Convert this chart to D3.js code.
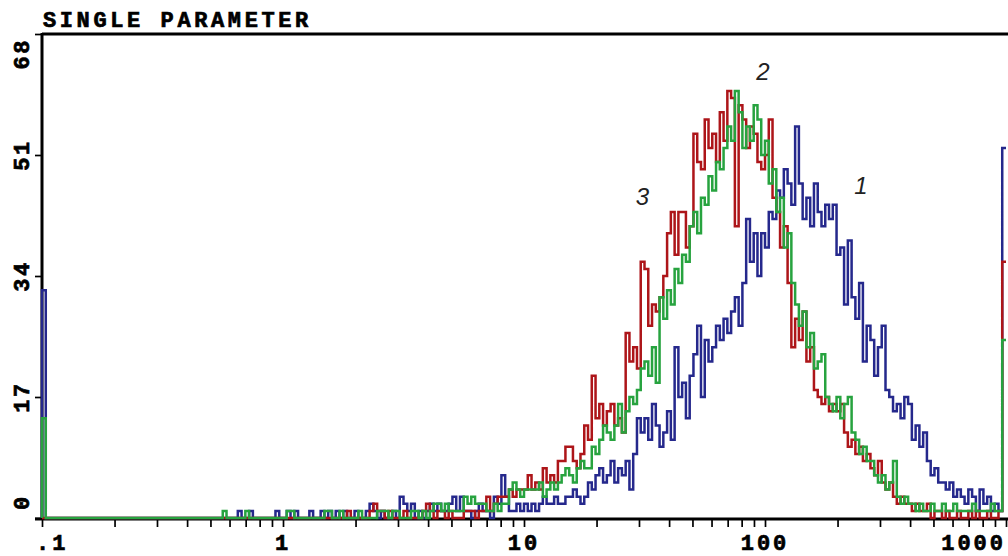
<!DOCTYPE html>
<html>
<head>
<meta charset="utf-8">
<script src="https://cdn.jsdelivr.net/npm/d3@7"></script>
<style>
body{margin:0;background:#fff;}
svg{display:block;}
</style>
</head>
<body>
<div id="chart"></div>
<script>
var chartTitle = "SINGLE PARAMETER";
var xTickValues = [0.1, 1, 10, 100, 1000];
var xTickLabels = [".1", "1", "10", "100", "1000"];
var yTickValues = [0, 17, 34, 51, 68];
var yTickLabels = ["0", "17", "34", "51", "68"];
var seriesNames = ["1", "2", "3"];
var channelsPerDecade = 64;

// counts per channel (256 channels, log scale .1 - 1000)
var counts1 = [
32,0,0,0,0,0,0,0,0,0, 0,0,0,0,0,0,0,0,0,0, 0,0,0,0,0,0,0,0,0,0, 0,0,0,0,0,0,0,0,0,0,
0,0,0,0,0,0,0,0,0,0, 0,0,1,0,0,1,0,0,0,0, 0,0,1,0,0,1,0,1,0,0, 0,1,0,0,1,0,1,0,1,0,
1,0,0,1,0,0,1,2,1,0, 1,0,0,1,0,3,2,1,2,0, 1,0,1,2,1,2,1,1,2,3, 1,3,1,1,0,1,2,1,1,0,
3,2,6,3,1,1,2,1,2,1, 2,1,2,3,2,2,3,2,2,3, 3,4,3,2,3,5,4,6,7,5, 6,8,5,7,6,8,4,9,14,12,
14,11,16,13,10,12,15,11,24,17, 19,14,20,23,27,17,25,22,24,27, 25,28,26,29,31,27,33,42,36,40,
34,40,38,43,42,46,45,49,47,44, 55,47,42,45,41,47,43,41,44,42, 44,37,38,30,39,31,28,33,22,27,
25,20,24,27,18,17,15,16,14,17, 16,11,13,10,12,8,6,7,5,5, 4,5,3,4,3,2,4,3,1,4,
2,3,1,2,1,52
];
var counts2 = [
14,0,0,0,0,0,0,0,0,0, 0,0,0,0,0,0,0,0,0,0, 0,0,0,0,0,0,0,0,0,0, 0,0,0,0,0,0,0,0,0,0,
0,0,0,0,0,0,0,0,1,0, 0,0,0,0,1,0,0,0,0,0, 0,0,0,0,0,1,1,0,0,0, 0,0,0,0,0,1,1,0,0,1,
0,0,0,0,1,0,0,0,0,1, 1,1,0,1,1,0,0,0,1,1, 0,1,0,1,2,2,1,2,1,1, 1,1,3,2,3,2,2,2,1,1,
2,1,2,2,4,5,4,3,4,4, 4,4,5,3,4,5,4,5,6,7, 6,5,7,8,7,7,10,9,11,13, 12,11,13,16,12,15,17,16,18,21,
22,20,24,19,31,28,32,30,35,33, 37,36,41,43,40,45,44,48,46,50, 49,52,55,53,60,57,52,55,53,58,
56,51,53,47,49,43,45,38,40,33, 30,27,29,24,26,21,22,23,17,16, 15,17,14,16,17,12,11,9,10,8,
8,6,5,6,4,5,8,3,2,3, 2,2,1,2,1,1,2,1,1,2, 1,1,2,1,1,1,1,2,1,1,
1,1,2,1,1,25
];
var counts3 = [
0,0,0,0,0,0,0,0,0,0, 0,0,0,0,0,0,0,0,0,0, 0,0,0,0,0,0,0,0,0,0, 0,0,0,0,0,0,0,0,0,0,
0,0,0,0,0,0,0,0,0,0, 0,0,0,0,0,0,0,0,0,0, 0,0,0,0,0,0,0,0,0,0, 0,0,0,0,0,0,0,0,0,0,
0,1,0,0,0,0,0,1,2,1, 1,0,1,0,0,0,1,0,0,0, 0,1,2,1,0,1,1,0,1,0, 0,0,1,1,1,0,1,1,3,1,
2,3,3,3,4,3,4,4,4,6, 4,5,4,7,5,6,5,8,8,10, 10,8,7,9,13,11,20,14,16,13, 15,16,13,14,12,26,22,24,21,36,
35,27,30,29,31,34,40,43,37,43, 43,38,41,54,50,49,56,52,54,50, 57,53,60,59,41,58,56,52,55,54,
50,49,51,56,45,43,38,41,33,24, 28,25,29,22,24,18,17,16,17,15, 16,15,16,12,10,11,9,10,8,9,
7,6,8,5,4,5,3,2,3,2, 2,1,2,1,1,2,0,1,1,0, 1,0,0,1,0,0,1,0,1,0,
0,1,0,0,1,36
];

var width = 1008, height = 556;
var svg = d3.select("#chart").append("svg").attr("width", width).attr("height", height);

var x = d3.scaleLog().domain([0.1, 1000]).range([42, 1006]);
var y = d3.scaleLinear().domain([0, 68]).range([518, 34]);
var monoFont = "'Liberation Mono', 'DejaVu Sans Mono', monospace";

// title
svg.append("text").attr("x", 43).attr("y", 27)
	.attr("font-family", monoFont).attr("font-weight", "bold")
	.attr("font-size", 22).attr("letter-spacing", 3.6)
	.attr("stroke", "#000").attr("stroke-width", 0.7)
	.text(chartTitle);

// x axis ticks (1..9 of each decade)
var minorTicks = [];
for (var d = 0; d < 4; d++) {
	for (var m = 1; m < 10; m++) minorTicks.push(xTickValues[d] * m);
}
minorTicks.push(1000);
var xAxis = svg.append("g").attr("transform", "translate(0,518)")
	.call(d3.axisBottom(x).tickValues(minorTicks).tickSize(9).tickFormat(""));
xAxis.select(".domain").remove();
xAxis.selectAll("line").attr("stroke", "#000").attr("stroke-width", 1.7);

var yAxis = svg.append("g").attr("transform", "translate(42,0)")
	.call(d3.axisLeft(y).tickValues(yTickValues).tickSize(7).tickFormat(""));
yAxis.select(".domain").remove();
yAxis.selectAll("line").attr("stroke", "#000").attr("stroke-width", 1.7);

// frame lines
svg.append("line").attr("x1", 42).attr("x2", 1008).attr("y1", 34).attr("y2", 34)
	.attr("stroke", "#000").attr("stroke-width", 3);
svg.append("line").attr("x1", 42).attr("x2", 42).attr("y1", 33).attr("y2", 520)
	.attr("stroke", "#000").attr("stroke-width", 3);
svg.append("line").attr("x1", 35).attr("x2", 1008).attr("y1", 519).attr("y2", 519)
	.attr("stroke", "#000").attr("stroke-width", 3);

// x tick labels
svg.selectAll(".xlab").data(xTickValues).enter().append("text")
	.attr("class", "xlab")
	.attr("x", function(v, i){ return i == 0 ? 36 : (i == 4 ? 1006 : x(v)); })
	.attr("y", 550)
	.attr("text-anchor", function(v, i){ return i == 0 ? "start" : (i == 4 ? "end" : "middle"); })
	.attr("font-family", monoFont).attr("font-weight", "bold")
	.attr("font-size", 22).attr("letter-spacing", 3)
	.attr("stroke", "#000").attr("stroke-width", 0.7)
	.text(function(v, i){ return xTickLabels[i]; });

// y tick labels (rotated)
svg.selectAll(".ylab").data(yTickValues).enter().append("text")
	.attr("class", "ylab")
	.attr("transform", function(v, i){
		var py = y(v);
		if (i == 0) py = py - 8;
		if (i == yTickValues.length - 1) py = py + 4;
		return "translate(21," + py + ") rotate(-90)";
	})
	.attr("dy", "0.35em")
	.attr("text-anchor", function(v, i){ return i == 0 ? "start" : (i == yTickValues.length - 1 ? "end" : "middle"); })
	.attr("font-family", monoFont).attr("font-weight", "bold")
	.attr("font-size", 22).attr("letter-spacing", 2.5)
	.attr("stroke", "#000").attr("stroke-width", 0.7)
	.text(function(v, i){ return yTickLabels[i]; });

// histogram step lines
var channelEdge = function(c){ return 0.1 * Math.pow(10, c / channelsPerDecade); };
var stepLine = d3.line().curve(d3.curveStepAfter)
	.x(function(p){ return x(p[0]); })
	.y(function(p){ return y(p[1]); });

var drawSeries = function(counts, color){
	var pts = [[channelEdge(0), 0]];
	for (var c = 0; c < counts.length; c++) pts.push([channelEdge(c), counts[c]]);
	pts.push([1000, counts[counts.length - 1]]);
	svg.append("path").attr("d", stepLine(pts))
		.attr("fill", "none").attr("stroke", color)
		.attr("stroke-width", 2.5).attr("stroke-linejoin", "miter");
};
drawSeries(counts1, "#25288c");
drawSeries(counts3, "#ad1519");
drawSeries(counts2, "#27a33f");

// series labels
var labelSpots = [[250, 45.5], [98, 61.5], [31, 44]];
svg.selectAll(".slab").data(seriesNames).enter().append("text")
	.attr("class", "slab")
	.attr("x", function(s, i){ return x(labelSpots[i][0]); })
	.attr("y", function(s, i){ return y(labelSpots[i][1]); })
	.attr("text-anchor", "middle")
	.attr("font-family", "'Liberation Sans', Arial, sans-serif")
	.attr("font-style", "italic").attr("font-size", 24).attr("fill", "#222")
	.text(function(s){ return s; });
</script>
</body>
</html>
